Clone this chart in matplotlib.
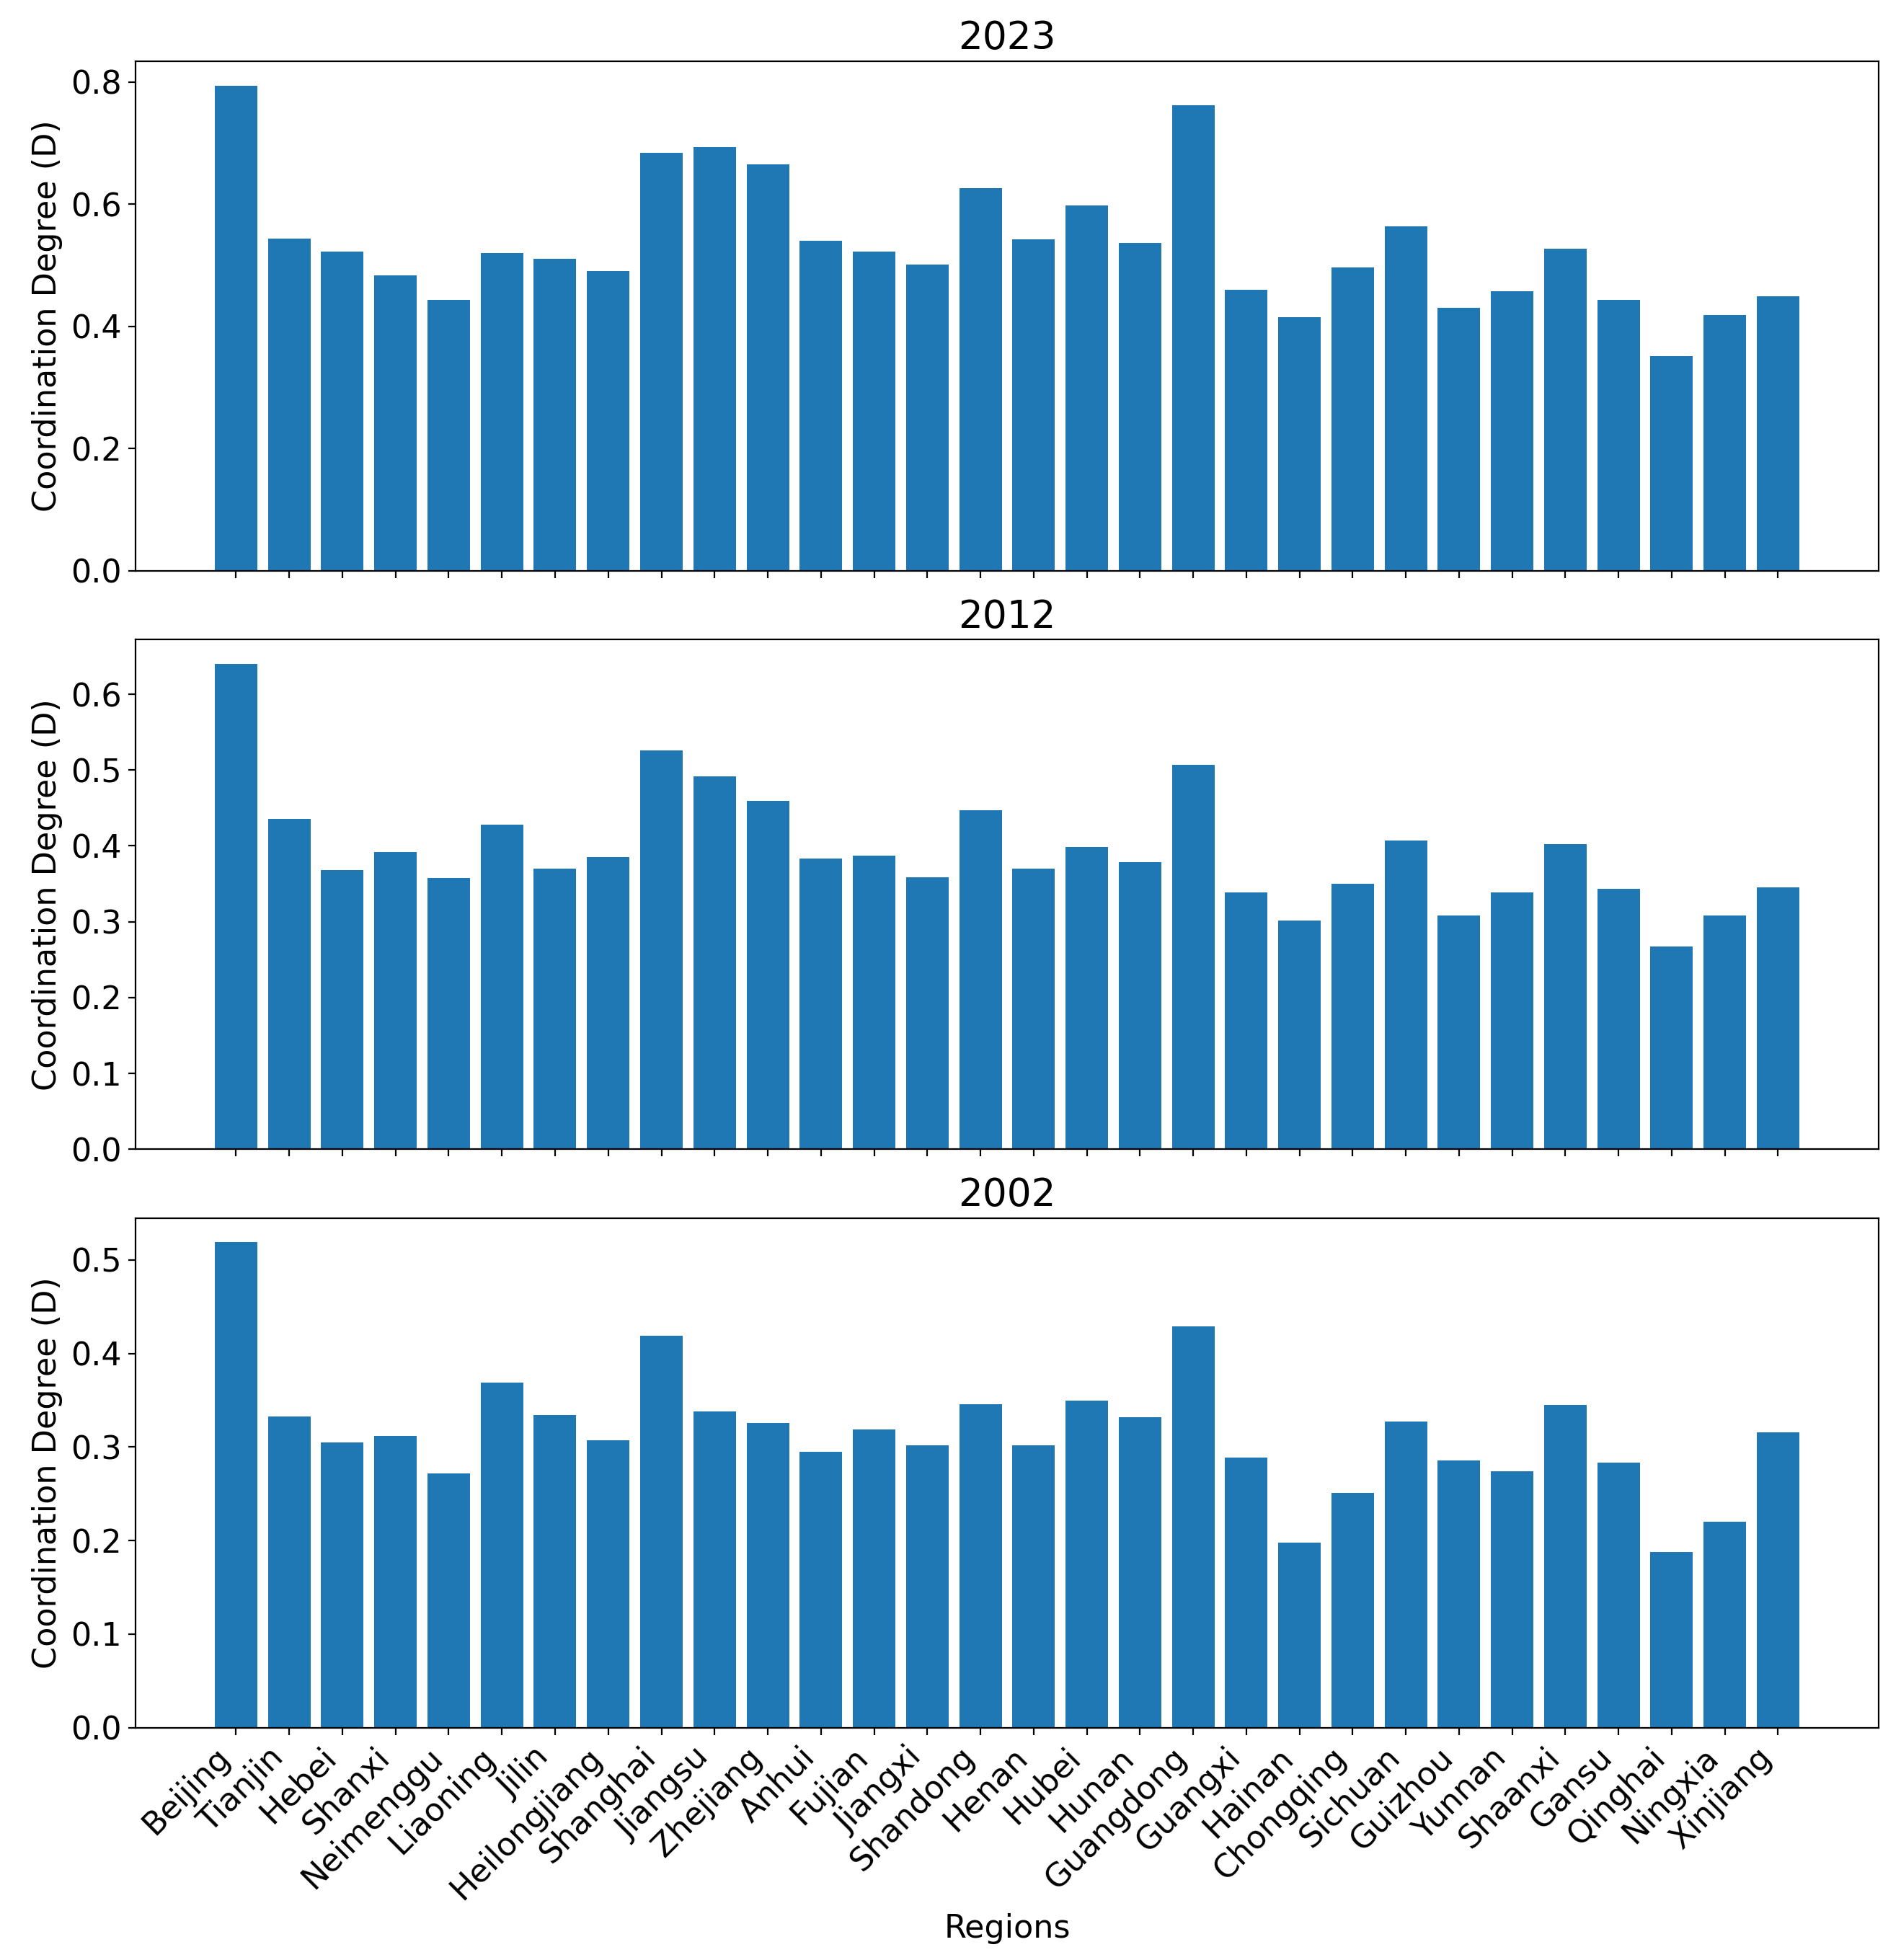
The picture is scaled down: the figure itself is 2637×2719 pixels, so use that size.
import matplotlib
matplotlib.use('Agg')
import matplotlib.pyplot as plt

# Regions in plotting order
regions = ['Beijing', 'Tianjin', 'Hebei', 'Shanxi', 'Neimenggu', 'Liaoning',
           'Jilin', 'Heilongjiang', 'Shanghai', 'Jiangsu', 'Zhejiang', 'Anhui',
           'Fujian', 'Jiangxi', 'Shandong', 'Henan', 'Hubei', 'Hunan',
           'Guangdong', 'Guangxi', 'Hainan', 'Chongqing', 'Sichuan', 'Guizhou',
           'Yunnan', 'Shaanxi', 'Gansu', 'Qinghai', 'Ningxia', 'Xinjiang']

# Coordination degree (D) per year
d_2023 = [0.794, 0.544, 0.522, 0.484, 0.444, 0.520, 0.511, 0.491, 0.684, 0.694,
          0.665, 0.540, 0.523, 0.501, 0.626, 0.543, 0.598, 0.537, 0.762, 0.460,
          0.415, 0.496, 0.564, 0.430, 0.457, 0.527, 0.444, 0.352, 0.419, 0.449]
d_2012 = [0.640, 0.436, 0.368, 0.392, 0.358, 0.428, 0.370, 0.385, 0.526, 0.492,
          0.459, 0.383, 0.387, 0.359, 0.447, 0.370, 0.399, 0.379, 0.507, 0.339,
          0.302, 0.350, 0.407, 0.308, 0.339, 0.402, 0.343, 0.267, 0.308, 0.345]
d_2002 = [0.519, 0.333, 0.305, 0.312, 0.272, 0.369, 0.334, 0.307, 0.419, 0.338,
          0.326, 0.295, 0.319, 0.302, 0.346, 0.302, 0.350, 0.332, 0.429, 0.289,
          0.198, 0.251, 0.327, 0.286, 0.274, 0.345, 0.283, 0.188, 0.220, 0.316]

years = ['2023', '2012', '2002']
series = [d_2023, d_2012, d_2002]

plt.rcParams['font.size'] = 16

fig, axes = plt.subplots(3, 1, figsize=(2637 / 200, 2719 / 200), dpi=200, sharex=True)
fig.subplots_adjust(left=0.0713, right=0.9882, top=0.9687, bottom=0.1186, hspace=0.135)

for ax, year, values in zip(axes, years, series):
    ax.bar(regions, values, color='#1f77b4')
    ax.set_title(year)
    ax.set_ylabel('Coordination Degree (D)')

axes[-1].set_xlabel('Regions')
plt.setp(axes[-1].get_xticklabels(), rotation=45, ha='right')

fig.savefig('out.png', dpi=200)
